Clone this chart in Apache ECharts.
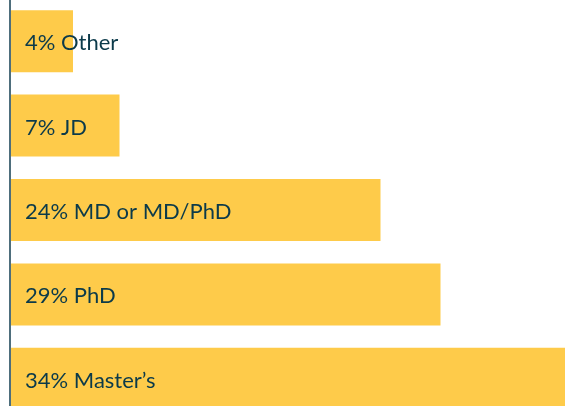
<!DOCTYPE html>
<html>
<head>
<meta charset="utf-8">
<script src="https://cdn.jsdelivr.net/npm/echarts@6/dist/echarts.min.js"></script>
<style>
  html, body { margin: 0; padding: 0; background: #fff; }
  #chart { width: 565px; height: 406px; }
</style>
</head>
<body>
<div id="chart"></div>
<script>
var categories = ['Other', 'JD', 'MD or MD/PhD', 'PhD', "Master\u2019s"];
var shares = [4, 7, 24, 29, 34];              // percentages printed on the bars
var barLengths = [4.2, 7.3, 24.7, 28.7, 37.5]; // bar lengths as drawn (same units)

var chart = echarts.init(document.getElementById('chart'));
var option = {
    animation: false,
    grid: {
        left: 10,
        top: -1,
        width: 600,
        height: 422,
        containLabel: false,
        outerBoundsMode: 'none'
    },
    xAxis: {
        type: 'value',
        min: 0,
        max: 40,
        show: false
    },
    yAxis: {
        type: 'category',
        inverse: true,
        z: 5,
        data: categories,
        axisLine: {
            show: true,
            lineStyle: { color: '#4e6e7c', width: 2 }
        },
        axisTick: { show: false },
        axisLabel: { show: false }
    },
    series: [{
        type: 'bar',
        data: barLengths,
        barCategoryGap: '26.5%',
        itemStyle: { color: '#fecb4a' },
        label: {
            show: true,
            position: 'insideLeft',
            distance: 15,
            offset: [0, 2],
            color: '#0b3a4a',
            fontFamily: 'Lato',
            fontSize: 22,
            formatter: function (p) {
                return shares[p.dataIndex] + '% ' + categories[p.dataIndex];
            }
        }
    }]
};
chart.setOption(option);
</script>
</body>
</html>
